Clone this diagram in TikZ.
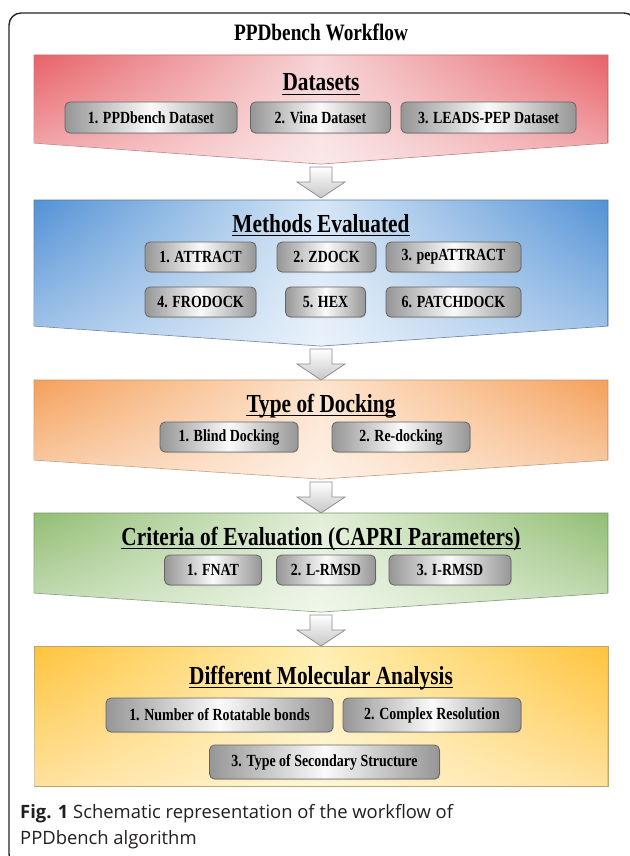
\documentclass[tikz,border=0pt]{standalone}
\usepackage{fontspec}
\setmainfont{Liberation Serif}
\newfontfamily\hdfont[FakeStretch=0.82]{Liberation Serif}
\newfontfamily\capfont{Open Sans}
\usetikzlibrary{fadings,shadows}
\tikzfading[name=fadedown, top color=transparent!100, bottom color=transparent!0]
\definecolor{rededge}{RGB}{232,98,104}
\definecolor{redmid}{RGB}{247,212,214}
\definecolor{redline}{RGB}{185,120,120}
\definecolor{blueedge}{RGB}{82,146,214}
\definecolor{bluemid}{RGB}{214,230,246}
\definecolor{blueline}{RGB}{95,120,155}
\definecolor{orangeedge}{RGB}{245,160,90}
\definecolor{orangemid}{RGB}{253,228,206}
\definecolor{orangeline}{RGB}{195,150,115}
\definecolor{greenedge}{RGB}{145,190,115}
\definecolor{greenmid}{RGB}{226,239,216}
\definecolor{greenline}{RGB}{120,150,110}
\definecolor{yellowedge}{RGB}{255,196,60}
\definecolor{yellowmid}{RGB}{255,239,178}
\definecolor{yellowline}{RGB}{185,165,115}
\definecolor{boxedge}{RGB}{150,150,150}
\definecolor{boxmid}{RGB}{250,250,250}
\definecolor{boxborder}{RGB}{100,100,100}
\definecolor{arrowborder}{RGB}{140,140,140}
\definecolor{captext}{RGB}{35,31,32}
\tikzset{
  band/.style={line width=0.8pt},
  pbox/.style={draw=boxborder, line width=0.8pt, rounded corners=5pt,
    left color=boxedge, right color=boxedge, middle color=boxmid,
    font=\hdfont\bfseries\fontsize{17}{20}\selectfont, inner sep=0pt,
    drop shadow={opacity=0.25, shadow xshift=0.8pt, shadow yshift=-1pt}},
  heading/.style={font=\hdfont\bfseries\fontsize{26}{30}\selectfont, inner sep=0pt, anchor=base},
  uline/.style={line width=1.2pt},
  darrow/.style={draw=arrowborder, line width=0.8pt, top color=white, bottom color=black!22},
  captxt/.style={font=\capfont\fontsize{18.4}{22}\selectfont, inner sep=0pt, anchor=base west, text=captext}
}
\newcommand\dnarrow[1]{\path[darrow] (310,#1) -- (332,#1) -- (332,#1+15) -- (345,#1+15) -- (321,#1+31) -- (297,#1+15) -- (310,#1+15) -- cycle;}
\newcommand\whiten[3]{\fill[white, path fading=fadedown, opacity=0.5] (34,#1) -- (608,#1) -- (608,#2) -- (321,#3) -- (34,#2) -- cycle;}
\begin{document}
\begin{tikzpicture}[x=1pt,y=-1pt]
\useasboundingbox (0,0) rectangle (629,856);
\fill[white] (0,0) rectangle (629,856);
% frame
\draw[line width=1.4pt, black!85, rounded corners=12pt] (9,13) rectangle (636,866);
% title
\node[font=\hdfont\bfseries\fontsize{23.5}{27}\selectfont, inner sep=0pt, anchor=base] (title) at (321,41) {PPDbench Workflow};

% ---------- band 1: Datasets ----------
\path[band, draw=redline, left color=rededge, right color=rededge, middle color=redmid]
  (34,55) -- (608,55) -- (608,143) -- (321,164) -- (34,143) -- cycle;
\whiten{55}{143}{164}
\node[heading] (h1) at (321,91) {Datasets};
\draw[uline] ([yshift=-3.5pt]h1.base west) -- ([yshift=-3.5pt]h1.base east);
\node[pbox, minimum width=172pt, minimum height=31pt] (d1) at (151,117.5) {1. PPDbench Dataset};
\node[pbox, minimum width=140pt, minimum height=31pt] (d2) at (320.5,117.5) {2. Vina Dataset};
\node[pbox, minimum width=175pt, minimum height=31pt] (d3) at (488.5,117.5) {3. LEADS-PEP Dataset};
\dnarrow{167}

% ---------- band 2: Methods ----------
\path[band, draw=blueline, left color=blueedge, right color=blueedge, middle color=bluemid]
  (34,200) -- (608,200) -- (608,326) -- (321,346) -- (34,326) -- cycle;
\whiten{200}{326}{346}
\node[heading] (h2) at (321,232) {Methods Evaluated};
\draw[uline] ([yshift=-3.5pt]h2.base west) -- ([yshift=-3.5pt]h2.base east);
\node[pbox, minimum width=111pt, minimum height=30pt] (m1) at (200.5,257) {1. ATTRACT};
\node[pbox, minimum width=99pt, minimum height=30pt] (m2) at (326.5,257) {2. ZDOCK};
\node[pbox, minimum width=135pt, minimum height=30pt] (m3) at (453.5,257) {3. pepATTRACT};
\node[pbox, minimum width=111pt, minimum height=30pt] (m4) at (200.5,302) {4. FRODOCK};
\node[pbox, minimum width=80pt, minimum height=30pt] (m5) at (325.5,302) {5. HEX};
\node[pbox, minimum width=135pt, minimum height=30pt] (m6) at (453.5,302) {6. PATCHDOCK};
\dnarrow{349}

% ---------- band 3: Type of docking ----------
\path[band, draw=orangeline, left color=orangeedge, right color=orangeedge, middle color=orangemid]
  (34,380) -- (608,380) -- (608,460) -- (321,479) -- (34,460) -- cycle;
\whiten{380}{460}{479}
\node[heading] (h3) at (321,412) {Type of Docking};
\draw[uline] ([yshift=-3.5pt]h3.base west) -- ([yshift=-3.5pt]h3.base east);
\node[pbox, minimum width=138pt, minimum height=30pt] (t1) at (229,437) {1. Blind Docking};
\node[pbox, minimum width=138pt, minimum height=30pt] (t2) at (401,437) {2. Re-docking};
\dnarrow{482}

% ---------- band 4: Criteria ----------
\path[band, draw=greenline, left color=greenedge, right color=greenedge, middle color=greenmid]
  (34,513) -- (608,513) -- (608,593) -- (321,612) -- (34,593) -- cycle;
\whiten{513}{593}{612}
\node[heading] (h4) at (321,545) {Criteria of Evaluation (CAPRI Parameters)};
\draw[uline] ([yshift=-3.5pt]h4.base west) -- ([yshift=-3.5pt]h4.base east);
\node[pbox, minimum width=97pt, minimum height=30pt] (c1) at (213,570) {1. FNAT};
\node[pbox, minimum width=99pt, minimum height=30pt] (c2) at (326,570) {2. L-RMSD};
\node[pbox, minimum width=122pt, minimum height=30pt] (c3) at (450,570) {3. I-RMSD};
\dnarrow{615}

% ---------- band 5: Molecular analysis ----------
\path[band, draw=yellowline, left color=yellowedge, right color=yellowedge, middle color=yellowmid]
  (34,646) rectangle (608,786);
\fill[white, path fading=fadedown, opacity=0.5] (34,646) rectangle (608,786);
\node[heading] (h5) at (321,684) {Different Molecular Analysis};
\draw[uline] ([yshift=-3.5pt]h5.base west) -- ([yshift=-3.5pt]h5.base east);
\node[pbox, minimum width=227pt, minimum height=34pt] (a1) at (219.5,715) {1. Number of Rotatable bonds};
\node[pbox, minimum width=178pt, minimum height=34pt] (a2) at (432,715) {2. Complex Resolution};
\node[pbox, minimum width=230pt, minimum height=34pt] (a3) at (324.5,762) {3. Type of Secondary Structure};

% ---------- caption ----------
\node[captxt] (cap1) at (20,818) {\textbf{Fig. 1} Schematic representation of the workflow of};
\node[captxt] (cap2) at (20,844) {PPDbench algorithm};
\end{tikzpicture}
\end{document}
